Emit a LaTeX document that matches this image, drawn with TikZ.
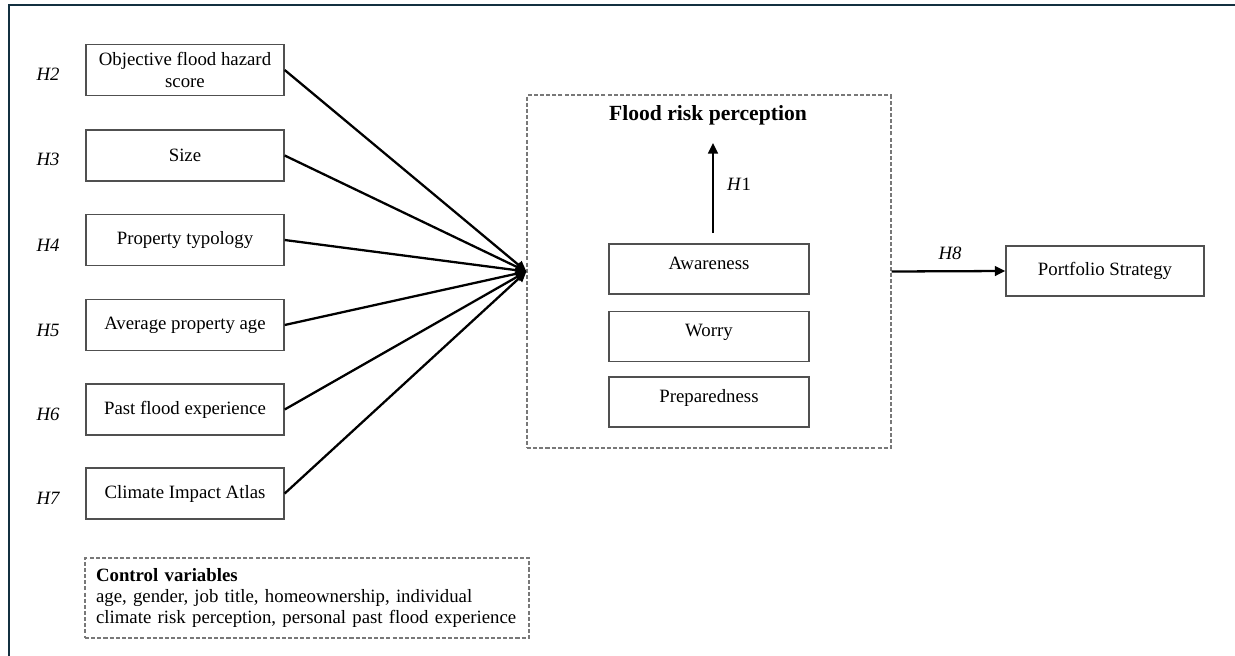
\documentclass[tikz,border=0pt]{standalone}
\usepackage{fontspec}
\setmainfont{Liberation Serif}
\usetikzlibrary{arrows.meta,positioning}

\definecolor{framecol}{RGB}{19,48,64}
\definecolor{boxgray}{RGB}{80,80,80}
\definecolor{dashgray}{RGB}{120,120,120}

\tikzset{
  factor/.style={draw=boxgray, line width=0.8pt, minimum width=3.96cm, minimum height=1.02cm,
                 align=center, inner sep=1pt},
  dimension/.style={draw=boxgray, line width=0.8pt, minimum width=4cm, minimum height=1cm,
                    text height=7pt, text depth=7pt},
  hyp/.style={font=\fontsize{10.7}{12.2}\selectfont\itshape},
  link/.style={line width=1.3pt, -{Triangle[length=6pt,width=5.5pt]}},
  dashbox/.style={draw=dashgray, line width=0.7pt, dash pattern=on 2.3pt off 1.2pt}
}

\begin{document}
\begin{tikzpicture}[x=0.02cm, y=-0.02cm, font=\fontsize{10.7}{12.2}\selectfont]
        \useasboundingbox (0,0) rectangle (1235,656);

        % Frame (top and left edge only)
        \draw[framecol, line width=1.6pt] (9,656) -- (9,5) -- (1235,5);

        % Antecedents with hypothesis labels
        \node[factor] (hazard) at (185,70) {Objective flood hazard\\score};
        \node[hyp] (h2) at (48,74) {H2};

        \node[factor] (size) at (185,155.5) {Size};
        \node[hyp] (h3) at (48,159) {H3};

        \node[factor] (typology) at (185,240) {Property typology};
        \node[hyp] (h4) at (48,245) {H4};

        \node[factor] (age) at (185,325) {Average property age};
        \node[hyp] (h5) at (48,330) {H5};

        \node[factor] (experience) at (185,409.5) {Past flood experience};
        \node[hyp] (h6) at (48,414) {H6};

        \node[factor] (atlas) at (185,493.5) {Climate Impact Atlas};
        \node[hyp] (h7) at (48,498) {H7};

        % Flood risk perception - dashed container
        \node[dashbox, minimum width=7.28cm, minimum height=7.06cm] (frp) at (709,271.5) {};
        \node[font=\fontsize{12.3}{14}\selectfont\bfseries] (frptitle) at (708,115) {Flood risk perception};

        % Dimensions of perception
        \node[dimension] (awareness) at (709,269) {Awareness};
        \node[dimension] (worry) at (709,336.5) {Worry};
        \node[dimension] (preparedness) at (709,402) {Preparedness};

        % H1 arrow towards the title
        \coordinate (h1bot) at (713,233);
        \coordinate (h1top) at (713,143);
        \draw[link] (h1bot) -- (h1top);
        \node[anchor=west] (h1) at (721,184) {\textit{H}1};

        % Antecedents converge on the container
        \foreach \src in {hazard,size,typology,age,experience,atlas}
            \draw[link] (\src.east) -- (frp.west);

        % Outcome
        \node[factor, minimum height=1cm] (portfolio) at (1105,271) {Portfolio Strategy};
        \draw[link] (frp.east) -- (portfolio.west);
        \node[hyp] (h8) at (950,253) {H8};

        % Control variables
        \node[dashbox, minimum width=8.88cm, minimum height=1.6cm, text width=8.44cm,
              inner xsep=0.22cm, align=left] (controls) at (307,598)
              {\textbf{Control variables}\\age, gender, job title, homeownership, individual\\climate risk perception, personal past flood experience};
    \end{tikzpicture}
\end{document}
